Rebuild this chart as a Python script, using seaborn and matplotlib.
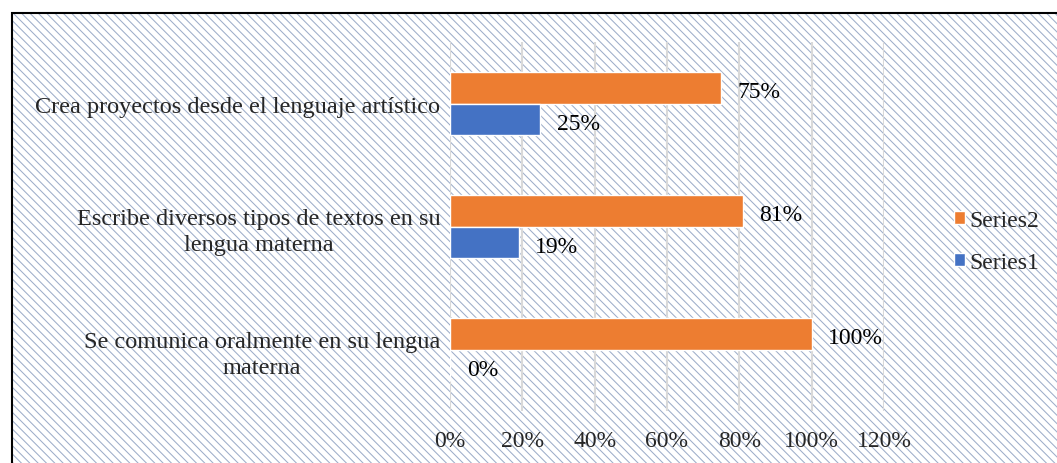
import pandas as pd
import seaborn as sns
import matplotlib.pyplot as plt
from matplotlib.patches import Rectangle

categorias = ['Crea proyectos desde el lenguaje artístico',
              'Escribe diversos tipos de textos en su\nlengua materna',
              'Se comunica oralmente en su lengua\nmaterna']
series2 = [75, 81, 100]
series1 = [25, 19, 0]
xticks = [0, 20, 40, 60, 80, 100, 120]

df = pd.DataFrame({
    'categoria': categorias * 2,
    'valor': series2 + series1,
    'serie': ['Series2'] * 3 + ['Series1'] * 3,
})

sns.set_style('white')
plt.rcParams['font.family'] = ['Liberation Serif', 'DejaVu Serif']
plt.rcParams['hatch.linewidth'] = 0.75

fig = plt.figure(figsize=(10.57, 4.64), dpi=100)
W, H = 1057, 464

# fondo rayado y borde del grafico
fig.patches.append(Rectangle((12 / W, 0), 1, (H - 14) / H, transform=fig.transFigure,
                             facecolor='white', edgecolor='#9dadc9', hatch='\\\\\\\\',
                             lw=0, zorder=-5))
fig.patches.append(Rectangle((12 / W, -0.05), 1, (H - 14) / H + 0.05, transform=fig.transFigure,
                             facecolor='none', edgecolor='black', lw=1.5, zorder=5))

ax = fig.add_axes([450 / W, 1 - 412 / H, (884 - 450) / W, (412 - 43) / H])
ax.set_facecolor('none')

sns.barplot(data=df, y='categoria', x='valor', hue='serie', orient='h',
            hue_order=['Series2', 'Series1'],
            palette={'Series2': '#ED7D31', 'Series1': '#4472C4'},
            width=0.52, saturation=1, ax=ax)

# etiquetas de datos, un poco por debajo del centro como en Excel
for cont in ax.containers:
    for bar, v in zip(cont, cont.datavalues):
        ax.annotate(f'{int(v)}%', (bar.get_width(), bar.get_y() + bar.get_height() / 2),
                    xytext=(12, -3), textcoords='offset points',
                    ha='left', va='center', fontsize=17, color='black')

ax.set_xlim(0, 120)
ax.set_xticks(xticks)
ax.set_xticklabels([f'{t}%' for t in xticks])
ax.grid(axis='x', color='#D9D9D9', lw=1.5)
ax.set_axisbelow(True)
for s in ax.spines.values():
    s.set_visible(False)
ax.tick_params(axis='x', length=0, pad=14, labelsize=17)
ax.tick_params(axis='y', length=0, pad=7, labelsize=17.5)
for lab in ax.get_yticklabels():
    lab.set_multialignment('center')
    lab.set_linespacing(1.3)
ax.set_xlabel('')
ax.set_ylabel('')

ax.legend(loc='center left', bbox_to_anchor=(954 / W, 1 - 242.5 / H),
          bbox_transform=fig.transFigure, frameon=False, fontsize=17,
          handlelength=0.45, handleheight=0.45, handletextpad=0.2,
          labelspacing=0.9, borderpad=0, borderaxespad=0)

plt.savefig('out.png', dpi=100)
